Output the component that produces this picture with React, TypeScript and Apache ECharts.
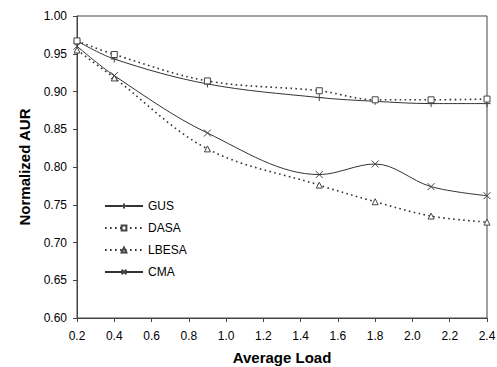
import React, { useEffect, useRef } from "react";
import * as echarts from "echarts";

const xValues = [0.2, 0.4, 0.9, 1.5, 1.8, 2.1, 2.4];
const gus = [0.967, 0.943, 0.91, 0.892, 0.887, 0.884, 0.884];
const dasa = [0.967, 0.949, 0.914, 0.901, 0.889, 0.889, 0.89];
const lbesa = [0.955, 0.918, 0.824, 0.776, 0.754, 0.735, 0.727];
const cma = [0.96, 0.921, 0.845, 0.79, 0.804, 0.774, 0.762];
const seriesNames = ["GUS", "DASA", "LBESA", "CMA"];

const plus = "path://M0,-5L0,5M-5,0L5,0";
const cross = "path://M-4,-4L4,4M4,-4L-4,4";

export default function App() {
  const ref = useRef<HTMLDivElement>(null);
  useEffect(() => {
    const chart = echarts.init(ref.current!, null, { renderer: "svg" });
    const pair = (ys: number[]) => xValues.map((x, i) => [x, ys[i]]);
    const font = "Liberation Sans, Arial, sans-serif";
    const mk = (name: string, data: number[], symbol: string, type: string, strokeSym: boolean) => ({
      name,
      type: "line",
      data: pair(data),
      smooth: 0.35,
      symbol,
      symbolSize: strokeSym ? 7 : 6,
      lineStyle: { color: "#333", width: type === "solid" ? 1 : 1.6, type: type === "solid" ? "solid" : [1.6, 3.4] },
      itemStyle: strokeSym
        ? { color: "none", borderColor: "#444", borderWidth: 1 }
        : { color: "#fff", borderColor: "#444", borderWidth: 1 },
    });
    chart.setOption({
      animation: false,
      backgroundColor: "#fff",
      grid: {
        left: 77,
        right: 10,
        top: 16,
        bottom: 49,
        show: true,
        borderColor: "#444",
        borderWidth: 1,
        containLabel: false,
        outerBoundsMode: "none",
      },
      legend: {
        orient: "vertical",
        left: 99,
        top: 195,
        itemWidth: 38,
        itemHeight: 6,
        itemGap: 10,
        data: seriesNames,
        textStyle: { fontFamily: font, fontSize: 12, color: "#000" },
      },
      xAxis: {
        type: "value",
        min: 0.2,
        max: 2.4,
        interval: 0.2,
        name: "Average Load",
        nameLocation: "middle",
        nameGap: 32,
        nameTextStyle: { fontFamily: font, fontSize: 15, fontWeight: "bold", color: "#000" },
        axisLine: { lineStyle: { color: "#444" } },
        axisTick: { show: true, length: 4, lineStyle: { color: "#444" } },
        axisLabel: { fontFamily: font, fontSize: 12, color: "#000", margin: 12, formatter: (v: number) => v.toFixed(1) },
        splitLine: { show: false },
      },
      yAxis: {
        type: "value",
        min: 0.6,
        max: 1.0,
        interval: 0.05,
        name: "Normalized AUR",
        nameLocation: "middle",
        nameGap: 45,
        nameTextStyle: { fontFamily: font, fontSize: 15, fontWeight: "bold", color: "#000" },
        axisLine: { show: true, lineStyle: { color: "#444" } },
        axisTick: { show: true, length: 4, lineStyle: { color: "#444" } },
        axisLabel: { fontFamily: font, fontSize: 12, color: "#000", margin: 10, formatter: (v: number) => v.toFixed(2) },
        splitLine: { show: false },
      },
      series: [
        mk("GUS", gus, plus, "solid", true),
        mk("DASA", dasa, "rect", "dotted", false),
        mk("LBESA", lbesa, "triangle", "dotted", false),
        mk("CMA", cma, cross, "solid", true),
      ],
    });
    return () => chart.dispose();
  }, []);
  return <div ref={ref} style={{ position: "fixed", left: 0, top: 0, width: 497, height: 367 }} />;
}
